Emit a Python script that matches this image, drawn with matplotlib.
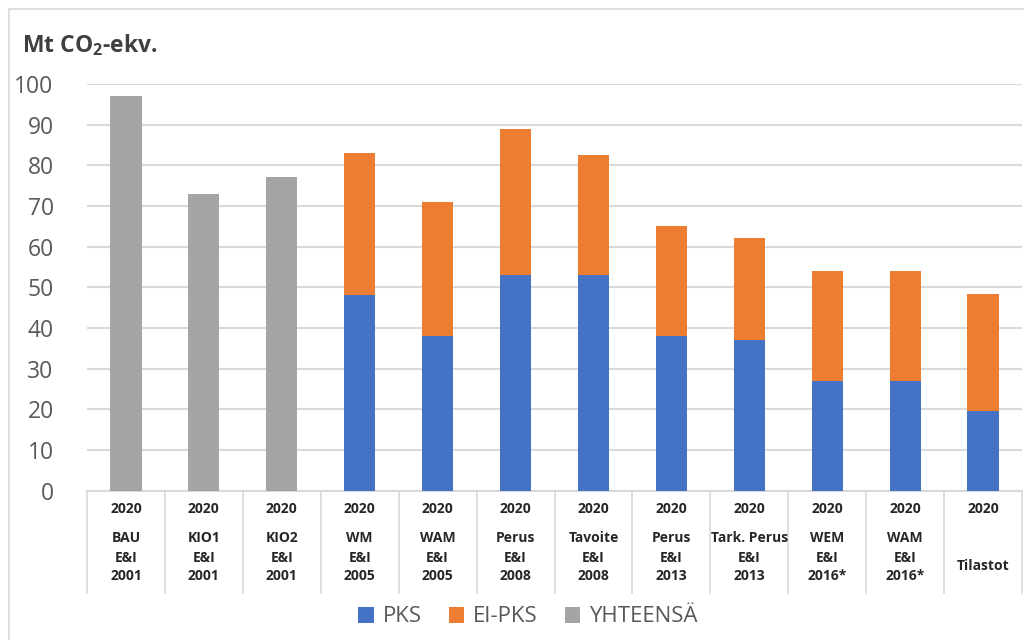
import matplotlib
matplotlib.use("Agg")
import matplotlib.pyplot as plt
import matplotlib.patches as patches
import matplotlib.transforms as mtransforms
import numpy as np

plt.rcParams["font.family"] = ["Open Sans", "DejaVu Sans"]
plt.rcParams["mathtext.fontset"] = "custom"
plt.rcParams["mathtext.rm"] = "Open Sans"
plt.rcParams["mathtext.bf"] = "Open Sans:bold"

# skenaariot (vuosi / nimi / lähde)
years = ["2020"] * 12
scenarios = ["BAU", "KIO1", "KIO2", "WM", "WAM", "Perus", "Tavoite",
             "Perus", "Tark. Perus", "WEM", "WAM", ""]
sources = ["E&I\n2001", "E&I\n2001", "E&I\n2001", "E&I\n2005", "E&I\n2005",
           "E&I\n2008", "E&I\n2008", "E&I\n2013", "E&I\n2013", "E&I\n2016*",
           "E&I\n2016*", "Tilastot"]

# päästöt, Mt CO2-ekv.
pks = [0, 0, 0, 48, 38, 53, 53, 38, 37, 27, 27, 19.6]
ei_pks = [0, 0, 0, 35, 33, 36, 29.5, 27, 25, 27, 27, 28.7]
yhteensa = [97, 73, 77.0, 0, 0, 0, 0, 0, 0, 0, 0, 0]

c_pks = "#4472C4"
c_ei = "#ED7D31"
c_yht = "#A5A5A5"
grid_c = "#D9D9D9"
txt_c = "#595959"

W, H = 1024, 640
fig = plt.figure(figsize=(W / 100, H / 100), dpi=100)
ax = fig.add_axes([87 / W, 1 - 490.5 / H, (1022 - 87) / W, (490.5 - 84) / H])

x = np.arange(len(scenarios))
bw = 0.4
ax.bar(x, pks, bw, color=c_pks, label="PKS", zorder=3)
ax.bar(x, ei_pks, bw, bottom=pks, color=c_ei, label="EI-PKS", zorder=3)
ax.bar(x, yhteensa, bw, color=c_yht, label="YHTEENSÄ", zorder=3)

ax.set_xlim(-0.5, len(scenarios) - 0.5)
ax.set_ylim(0, 100)
ax.set_yticks(range(0, 101, 10))
ax.yaxis.grid(True, color=grid_c, linewidth=1.5, zorder=0)
ax.tick_params(axis="y", length=0, pad=24, labelsize=16.5, labelcolor=txt_c)
ax.set_xticks([])
for s in ["left", "right", "top"]:
    ax.spines[s].set_visible(False)
ax.spines["bottom"].set_color(grid_c)
ax.spines["bottom"].set_linewidth(1.5)

# kategoriataulukko akselin alla
tr = mtransforms.blended_transform_factory(ax.transData, fig.transFigure)
for b in np.arange(-0.5, len(scenarios), 1.0):
    ax.plot([b, b], [1 - 490.5 / H, 1 - 593 / H], color=grid_c, lw=1.2,
            transform=tr, clip_on=False)
lab_kw = dict(transform=tr, ha="center", fontsize=10, fontweight="bold",
              color="#262626")
for i in x:
    ax.text(i, 1 - 509 / H, years[i], va="center", **lab_kw)
    if scenarios[i]:
        ax.text(i, 1 - 538 / H, scenarios[i], va="center", **lab_kw)
    if "\n" in sources[i]:
        ax.text(i, 1 - 567 / H, sources[i], va="center", linespacing=1.3,
                **lab_kw)
    else:
        ax.text(i, 1 - 566 / H, sources[i], va="center", **lab_kw)

fig.text(22 / W, 1 - 45 / H, r"Mt CO$_\mathbf{2}$-ekv.", fontsize=16.5,
         fontweight="bold", color="#404040", va="center", ha="left")

fig.legend(loc="center", bbox_to_anchor=(528 / W, 1 - 617 / H), ncol=3,
           frameon=False, fontsize=16, labelcolor=txt_c, handlelength=0.7,
           handleheight=0.7, handletextpad=0.4, columnspacing=1.2)

# kehys
fig.patches.append(patches.Rectangle((9 / W, -0.1), 1.2, 1 - 9 / H + 0.1,
                                     transform=fig.transFigure, fill=False,
                                     edgecolor=grid_c, linewidth=1.2))

fig.savefig("out.png", dpi=100)
